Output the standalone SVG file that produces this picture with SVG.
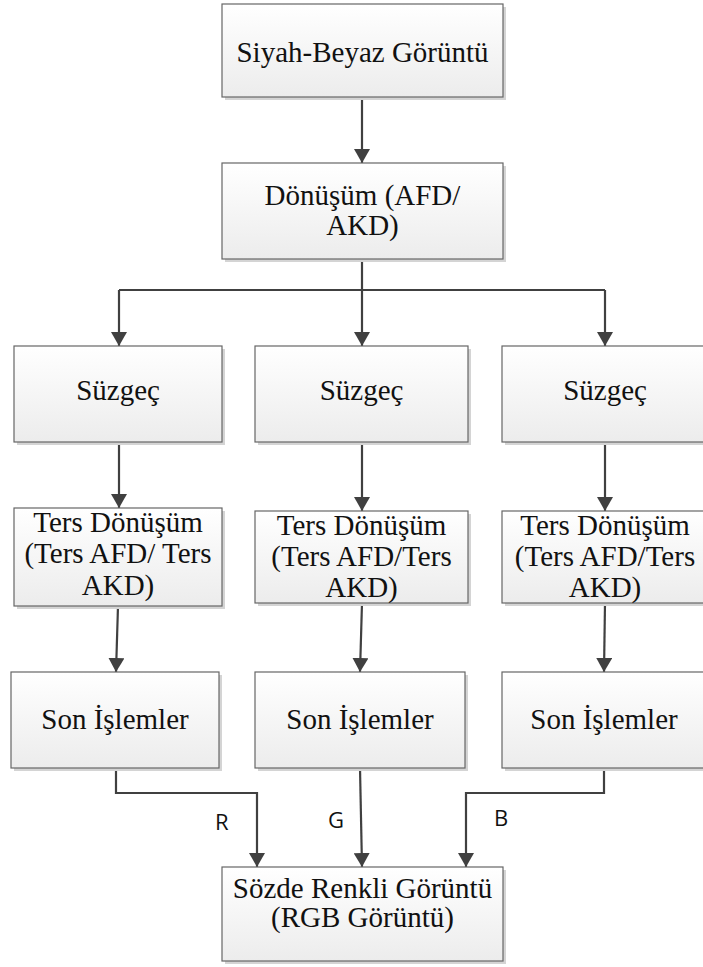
<svg xmlns="http://www.w3.org/2000/svg" width="703" height="967" viewBox="0 0 703 967">
  <defs>
    <linearGradient id="boxFill" x1="0" y1="0" x2="0" y2="1">
      <stop offset="0" stop-color="#ffffff"/>
      <stop offset="1" stop-color="#ececec"/>
    </linearGradient>
    <marker id="arrow" viewBox="0 0 14 16" refX="14" refY="8" markerWidth="14" markerHeight="16" markerUnits="userSpaceOnUse" orient="auto">
      <path d="M0,0 L14,8 L0,16 Z" fill="#404040"/>
    </marker>
  </defs>
  <style>
    .shadow { fill: #d4d4d4; }
    .box { fill: url(#boxFill); stroke: #666666; stroke-width: 1.2; }
    .label { font-family: "Liberation Serif", "Times New Roman", serif; font-size: 29px; fill: #111111; text-anchor: middle; }
    .channel { font-family: "Open Sans", "Liberation Sans", sans-serif; font-size: 22px; fill: #111111; }
    .link { fill: none; stroke: #404040; stroke-width: 2.2; }
    .head { fill: none; stroke: #404040; stroke-width: 2.2; marker-end: url(#arrow); }
  </style>

  <rect width="703" height="967" fill="#ffffff"/>

  <!-- connectors -->
  <g id="connectors">
    <path class="head" d="M362,97 L362,163"/>
    <path class="link" d="M362,259 L362,290"/>
    <path class="link" d="M119,290 L605,290"/>
    <path class="head" d="M119,290 L119,346"/>
    <path class="head" d="M362,290 L362,346"/>
    <path class="head" d="M605,290 L605,346"/>

    <path class="head" d="M119,442 L119,508"/>
    <path class="head" d="M362,442 L362,511"/>
    <path class="head" d="M605,442 L605,511"/>

    <path class="head" d="M118,606 L116,672"/>
    <path class="head" d="M362,603 L360,672"/>
    <path class="head" d="M605,603 L604,672"/>

    <path class="head" d="M116,768 L116,793 L257,793 L257,867"/>
    <path class="head" d="M360,768 L362,867"/>
    <path class="head" d="M604,768 L604,793 L466,793 L466,867"/>

    <text class="channel" x="215" y="830">R</text>
    <text class="channel" x="328" y="828">G</text>
    <text class="channel" x="494" y="826">B</text>
  </g>

  <!-- black-and-white input -->
  <g id="input">
    <rect class="shadow" x="225" y="7" width="281" height="93"/>
    <rect class="box" x="222" y="4" width="281" height="93"/>
    <text class="label" x="362.5" y="62">Siyah-Beyaz Görüntü</text>
  </g>

  <!-- forward transform -->
  <g id="transform">
    <rect class="shadow" x="225" y="166" width="281" height="96"/>
    <rect class="box" x="222" y="163" width="281" height="96"/>
    <text class="label" x="362.5" y="205">Dönüşüm (AFD/</text>
    <text class="label" x="362.5" y="235">AKD)</text>
  </g>

  <!-- filters -->
  <g id="filter-r">
    <rect class="shadow" x="17" y="349" width="208" height="96"/>
    <rect class="box" x="14" y="346" width="208" height="96"/>
    <text class="label" x="118" y="400">Süzgeç</text>
  </g>
  <g id="filter-g">
    <rect class="shadow" x="258" y="349" width="213" height="96"/>
    <rect class="box" x="255" y="346" width="213" height="96"/>
    <text class="label" x="361.5" y="400">Süzgeç</text>
  </g>
  <g id="filter-b">
    <rect class="shadow" x="505" y="349" width="208" height="96"/>
    <rect class="box" x="502" y="346" width="208" height="96"/>
    <text class="label" x="605" y="400">Süzgeç</text>
  </g>

  <!-- inverse transforms -->
  <g id="inverse-r">
    <rect class="shadow" x="17" y="511" width="208" height="98"/>
    <rect class="box" x="14" y="508" width="208" height="98"/>
    <text class="label" x="118" y="532">Ters Dönüşüm</text>
    <text class="label" x="118" y="563">(Ters AFD/ Ters</text>
    <text class="label" x="118" y="595">AKD)</text>
  </g>
  <g id="inverse-g">
    <rect class="shadow" x="258" y="514" width="213" height="92"/>
    <rect class="box" x="255" y="511" width="213" height="92"/>
    <text class="label" x="361.5" y="535">Ters Dönüşüm</text>
    <text class="label" x="361.5" y="566">(Ters AFD/Ters</text>
    <text class="label" x="361.5" y="597">AKD)</text>
  </g>
  <g id="inverse-b">
    <rect class="shadow" x="505" y="514" width="208" height="92"/>
    <rect class="box" x="502" y="511" width="208" height="92"/>
    <text class="label" x="605" y="535">Ters Dönüşüm</text>
    <text class="label" x="605" y="566">(Ters AFD/Ters</text>
    <text class="label" x="605" y="597">AKD)</text>
  </g>

  <!-- post-processing -->
  <g id="post-r">
    <rect class="shadow" x="14" y="675" width="208" height="96"/>
    <rect class="box" x="11" y="672" width="208" height="96"/>
    <text class="label" x="115" y="729">Son İşlemler</text>
  </g>
  <g id="post-g">
    <rect class="shadow" x="258" y="675" width="210" height="96"/>
    <rect class="box" x="255" y="672" width="210" height="96"/>
    <text class="label" x="360" y="729">Son İşlemler</text>
  </g>
  <g id="post-b">
    <rect class="shadow" x="505" y="675" width="208" height="96"/>
    <rect class="box" x="502" y="672" width="208" height="96"/>
    <text class="label" x="604" y="729">Son İşlemler</text>
  </g>

  <!-- pseudo-colour output -->
  <g id="output">
    <rect class="shadow" x="225" y="870" width="281" height="94"/>
    <rect class="box" x="222" y="867" width="281" height="94"/>
    <text class="label" x="362.5" y="898">Sözde Renkli Görüntü</text>
    <text class="label" x="362.5" y="927">(RGB Görüntü)</text>
  </g>
</svg>
